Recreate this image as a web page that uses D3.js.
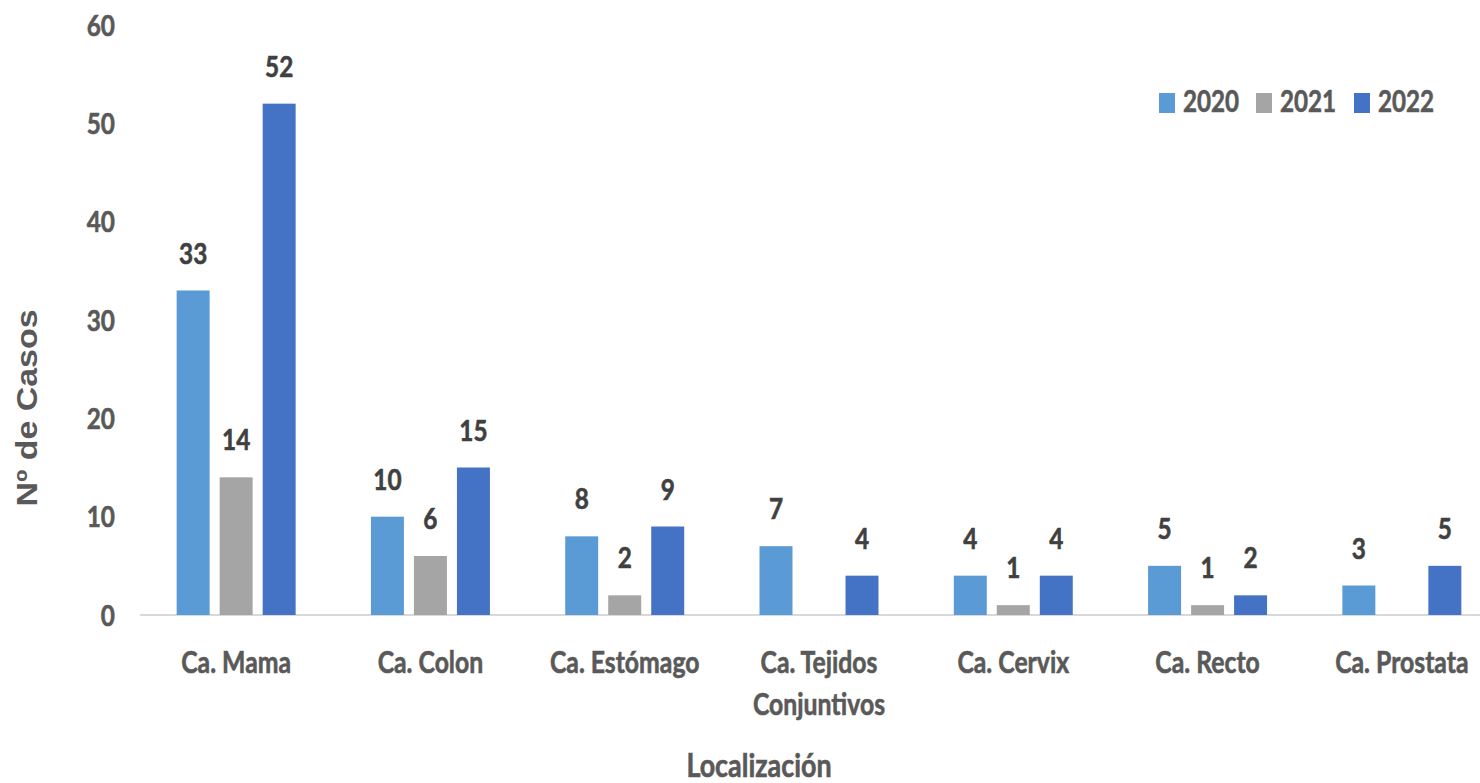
<!DOCTYPE html>
<html><head><meta charset="utf-8">
<script src="https://cdn.jsdelivr.net/npm/d3@7"></script>
<style>body{margin:0;background:#fff}svg{display:block}</style>
</head><body>
<svg id="c" width="1480" height="783"></svg>
<script>
const categories = ["Ca. Mama","Ca. Colon","Ca. Estómago","Ca. Tejidos|Conjuntivos","Ca. Cervix","Ca. Recto","Ca. Prostata"];
const years = ["2020","2021","2022"];
const v2020 = [33,10,8,7,4,5,3];
const v2021 = [14,6,2,null,1,1,null];
const v2022 = [52,15,9,4,4,2,5];
const yTicks = [0,10,20,30,40,50,60];
const colors = {"2020":"#5B9BD5","2021":"#A5A5A5","2022":"#4472C4"};
const series = {"2020":v2020,"2021":v2021,"2022":v2022};

const svg = d3.select("#c");
const FONT = "Lato, 'Open Sans', sans-serif";
const SX = 0.84;

const y = d3.scaleLinear().domain([0,60]).range([615,25]);
const x0 = d3.scaleBand().domain(categories).range([139,1499]).paddingInner(0.336).paddingOuter(0.168);
const x1 = d3.scaleBand().domain(years).range([0,x0.bandwidth()]).paddingInner(0.233).paddingOuter(0.1165);

function txt(g, str, x, yy, opts){
  const fill = opts.fill||"#595959";
  const t = g.append("text")
    .attr("transform", `translate(${x},${yy}) scale(${opts.sx||SX},1)`)
    .attr("text-anchor", opts.anchor||"middle")
    .attr("font-family", opts.family||FONT)
    .attr("font-weight", "bold")
    .attr("font-size", opts.size||28)
    .attr("fill", fill)
    .attr("stroke", fill).attr("stroke-width", 0.6)
    .text(str);
  return t;
}

// baseline
svg.append("line").attr("x1",140).attr("x2",1480).attr("y1",y(0)).attr("y2",y(0))
  .attr("stroke","#D9D9D9").attr("stroke-width",2);

// y tick labels
const gy = svg.append("g");
yTicks.forEach(t=>txt(gy, String(t), 115, y(t)+10.5, {anchor:"end", size:29}));

// bars
const gb = svg.append("g");
categories.forEach((c,i)=>{
  years.forEach(yr=>{
    const v = series[yr][i];
    if(v==null) return;
    const bx = x0(c)+x1(yr);
    gb.append("rect").attr("x",bx).attr("y",y(v)).attr("width",x1.bandwidth()).attr("height",y(0)-y(v))
      .attr("fill",colors[yr]);
    txt(gb, String(v), bx+x1.bandwidth()/2, y(v)-27, {size:29, fill:"#404040"});
  });
});

// category labels
const gx = svg.append("g");
categories.forEach(c=>{
  const cx = x0(c)+x0.bandwidth()/2;
  c.split("|").forEach((line,k)=>txt(gx, line, cx, 673+k*42, {size:29.5}));
});

// axis titles
txt(svg, "Localización", 759, 777, {size:32});
svg.append("text")
  .attr("transform","translate(37,408) rotate(-90)")
  .attr("text-anchor","middle")
  .attr("font-family","'Liberation Sans', Arial, sans-serif")
  .attr("font-weight","bold").attr("font-size",29).attr("fill","#595959")
  .attr("textLength",197).attr("lengthAdjust","spacingAndGlyphs")
  .text("Nº de Casos");

// legend
const lg = svg.append("g");
const lx = [1159,1256,1354];
years.forEach((yr,i)=>{
  lg.append("rect").attr("x",lx[i]).attr("y",93).attr("width",16).attr("height",20).attr("fill",colors[yr]);
  txt(lg, yr, lx[i]+24, 112, {anchor:"start", size:31, sx:0.78});
});
</script>
</body></html>
